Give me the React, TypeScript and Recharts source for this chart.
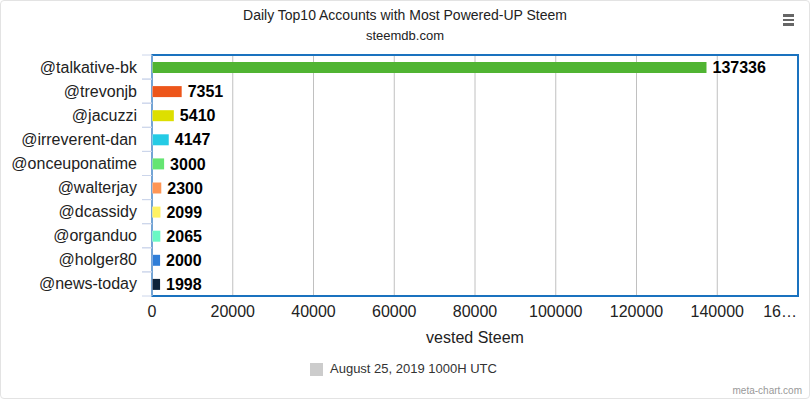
import React from 'react';
import { BarChart, Bar, XAxis, YAxis, CartesianGrid, Cell, LabelList, ReferenceArea } from 'recharts';

const accounts = ['@talkative-bk', '@trevonjb', '@jacuzzi', '@irreverent-dan', '@onceuponatime', '@walterjay', '@dcassidy', '@organduo', '@holger80', '@news-today'];
const vested = [137336, 7351, 5410, 4147, 3000, 2300, 2099, 2065, 2000, 1998];
const barColors = ['#50B432', '#ED561B', '#DDDF00', '#24CBE5', '#64E572', '#FF9655', '#FFF263', '#6AF9C4', '#2f7ed8', '#0d233a'];
const xTicks = [0, 20000, 40000, 60000, 80000, 100000, 120000, 140000, 160000];
const xTickLabels = ['0', '20000', '40000', '60000', '80000', '100000', '120000', '140000', '16…'];

const title = 'Daily Top10 Accounts with Most Powered-UP Steem';
const subtitle = 'steemdb.com';
const axisTitle = 'vested Steem';
const legendLabel = 'August 25, 2019 1000H UTC';
const credits = 'meta-chart.com';

const data = accounts.map((name, i) => ({ name, value: vested[i], color: barColors[i] }));

const FONT = 'Arial, "Liberation Sans", Helvetica, sans-serif';
const HALF_BAND = 12.05;

const YTick = (props: any) => {
  const { x, y, payload } = props;
  return (
    <g>
      <line x1={x + 5} x2={x + 15} y1={y - HALF_BAND} y2={y - HALF_BAND} stroke="#ccd6eb" />
      <line x1={x + 5} x2={x + 15} y1={y + HALF_BAND} y2={y + HALF_BAND} stroke="#ccd6eb" />
      <text x={x} y={y} textAnchor="end" dominantBaseline="central" fontSize={16} fill="#222" fontFamily={FONT}>
        {payload.value}
      </text>
    </g>
  );
};

const XTick = (props: any) => {
  const { x, y, payload, index } = props;
  const last = index === xTicks.length - 1;
  return (
    <text x={last ? x - 1 : x} y={y} dy="0.71em" textAnchor={last ? 'end' : 'middle'} fontSize={16} fill="#222" fontFamily={FONT}>
      {xTickLabels[xTicks.indexOf(payload.value)]}
    </text>
  );
};

export default function App() {
  return (
    <div style={{ position: 'absolute', left: 0, top: 0, width: 810, height: 399, fontFamily: FONT, background: '#fff' }}>
      <div style={{ position: 'absolute', left: 0, top: 0, width: 808, height: 397, border: '1px solid #e3e3e3', borderRadius: 4 }} />
      <div style={{ position: 'absolute', left: 0, top: 7, width: 810, textAlign: 'center', fontSize: 14, color: '#222' }}>{title}</div>
      <div style={{ position: 'absolute', left: 0, top: 28, width: 810, textAlign: 'center', fontSize: 13, color: '#222' }}>{subtitle}</div>
      <div style={{ position: 'absolute', left: 783, top: 14 }}>
        <div style={{ width: 11, height: 2.5, background: '#666', marginBottom: 2 }} />
        <div style={{ width: 11, height: 2.5, background: '#666', marginBottom: 2 }} />
        <div style={{ width: 11, height: 2.5, background: '#666' }} />
      </div>
      <BarChart
        width={810}
        height={399}
        data={data}
        layout="vertical"
        margin={{ top: 55, right: 12, bottom: 53, left: 0 }}
        barSize={11}
        style={{ position: 'absolute', left: 0, top: 0 }}
      >
        <CartesianGrid horizontal={false} vertical={true} stroke="#c0c0c0" />
        <XAxis
          type="number"
          domain={[0, 160000]}
          ticks={xTicks}
          interval={0}
          tickLine={false}
          axisLine={false}
          tickSize={8}
          tickMargin={2}
          height={50}
          tick={<XTick />}
          label={{ value: axisTitle, position: 'insideBottom', offset: 3, fontSize: 16, fill: '#222', fontFamily: FONT }}
        />
        <YAxis
          type="category"
          dataKey="name"
          width={152}
          interval={0}
          tickLine={false}
          tickSize={0}
          tickMargin={15}
          axisLine={{ stroke: '#ccd6eb' }}
          tick={<YTick />}
        />
        <Bar dataKey="value" isAnimationActive={false}>
          {data.map((d) => (
            <Cell key={d.name} fill={d.color} />
          ))}
          <LabelList
            dataKey="value"
            position="right"
            offset={6}
            style={{ fontSize: 16, fontWeight: 'bold', fill: '#000', fontFamily: FONT, stroke: '#fff', strokeWidth: 0.5, paintOrder: 'stroke' }}
          />
        </Bar>
        <ReferenceArea x1={0} x2={160000} fill="none" stroke="#1a72bf" strokeWidth={2} fillOpacity={0} ifOverflow="visible" />
      </BarChart>
      <div style={{ position: 'absolute', left: 310, top: 363, width: 13, height: 13, background: '#cccccc' }} />
      <div style={{ position: 'absolute', left: 330, top: 361, fontSize: 13, color: '#333' }}>{legendLabel}</div>
      <div style={{ position: 'absolute', right: 8, top: 385, fontSize: 10, color: '#999' }}>{credits}</div>
    </div>
  );
}
